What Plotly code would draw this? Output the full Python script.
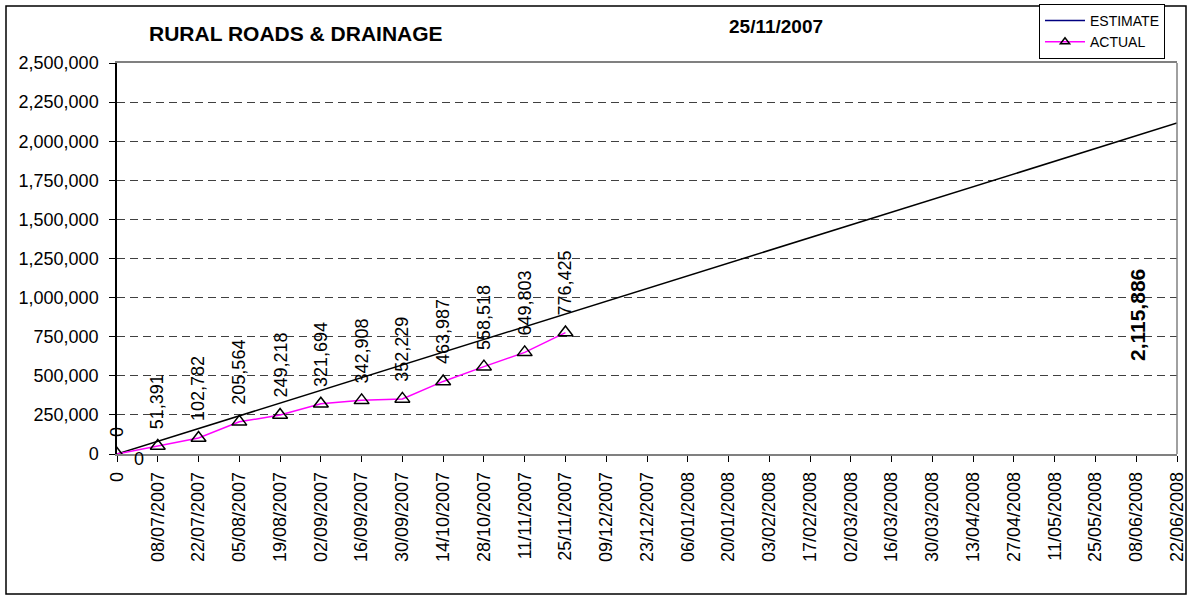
import plotly.graph_objects as go

# category axis labels (Excel line chart with a date-like category axis)
categories = ["0", "08/07/2007", "22/07/2007", "05/08/2007", "19/08/2007", "02/09/2007",
              "16/09/2007", "30/09/2007", "14/10/2007", "28/10/2007", "11/11/2007",
              "25/11/2007", "09/12/2007", "23/12/2007", "06/01/2008", "20/01/2008",
              "03/02/2008", "17/02/2008", "02/03/2008", "16/03/2008", "30/03/2008",
              "13/04/2008", "27/04/2008", "11/05/2008", "25/05/2008", "08/06/2008",
              "22/06/2008"]

# estimate: straight line from start to end
estimate_x = ["0", "22/06/2008"]
estimate_y = [0, 2115886]

# actual progress
actual_x = categories[:12]
actual_y = [0, 51391, 102782, 205564, 249218, 321694, 342908, 352229,
            463987, 558518, 649803, 776425]

y_ticks = [0, 250000, 500000, 750000, 1000000, 1250000, 1500000,
           1750000, 2000000, 2250000, 2500000]

W, H = 1191, 597
L, R, T, B = 117, 1177, 63, 454   # plot area in pixels
FONT = "Liberation Sans, Arial, sans-serif"


def px_x(p):
    return (p - L) / (R - L)


def px_y(p):
    return (B - p) / (B - T)


fig = go.Figure()

fig.add_trace(go.Scatter(
    x=estimate_x, y=estimate_y, mode="lines", name="ESTIMATE",
    line=dict(color="black", width=1.5), showlegend=False, hoverinfo="skip"))

fig.add_trace(go.Scatter(
    x=actual_x, y=actual_y, mode="lines+markers", name="ACTUAL",
    line=dict(color="#ff00ff", width=1.5),
    marker=dict(symbol="triangle-up-open", size=13, color="black",
                line=dict(color="black", width=1.5)),
    showlegend=False))

# legend-only entries (legend in the reference shows a navy estimate line)
fig.add_trace(go.Scatter(x=[None], y=[None], mode="lines", name="ESTIMATE",
                         line=dict(color="#000080", width=1.5)))
fig.add_trace(go.Scatter(x=[None], y=[None], mode="lines+markers", name="ACTUAL",
                         line=dict(color="#ff00ff", width=1.5),
                         marker=dict(symbol="triangle-up-open", size=8, color="black",
                                     line=dict(color="black", width=1.5))))

annotations = []
# rotated data labels for the actual series
for cx, cy in zip(actual_x, actual_y):
    annotations.append(dict(
        x=cx, y=cy, xref="x", yref="y", text=f"{cy:,}", showarrow=False,
        textangle=-90, yanchor="bottom", xanchor="center", yshift=15,
        font=dict(family=FONT, size=18, color="black")))

# estimate labels
annotations.append(dict(
    x=estimate_x[0], y=estimate_y[0], xref="x", yref="y", text=f"{estimate_y[0]:,}",
    showarrow=False, xshift=22, yshift=-5,
    font=dict(family=FONT, size=18, color="black")))
annotations.append(dict(
    x="08/06/2008", y=890000, xref="x", yref="y", text=f"<b>{estimate_y[-1]:,}</b>",
    showarrow=False, textangle=-90, xshift=2,
    font=dict(family=FONT, size=21, color="black")))

# titles
annotations.append(dict(
    x=px_x(296), y=px_y(33), xref="paper", yref="paper",
    xanchor="center", yanchor="middle",
    text="<b>RURAL ROADS & DRAINAGE</b>", showarrow=False,
    font=dict(family=FONT, size=21, color="black")))
annotations.append(dict(
    x=px_x(776), y=px_y(26), xref="paper", yref="paper",
    xanchor="center", yanchor="middle",
    text="<b>25/11/2007</b>", showarrow=False,
    font=dict(family=FONT, size=19, color="black")))

shapes = [
    # outer chart border
    dict(type="rect", xref="paper", yref="paper",
         x0=px_x(6), x1=px_x(1186), y0=px_y(594), y1=px_y(6),
         line=dict(color="black", width=1.5), layer="below"),
    # right edge of plot area
    dict(type="line", xref="paper", yref="paper", x0=1, x1=1, y0=0, y1=1,
         line=dict(color="#808080", width=1.5)),
]

fig.update_layout(
    width=W, height=H,
    margin=dict(l=L, r=W - R, t=T, b=H - B, autoexpand=False),
    paper_bgcolor="white", plot_bgcolor="white",
    font=dict(family=FONT, size=18, color="black"),
    annotations=annotations, shapes=shapes,
    legend=dict(x=px_x(1039), y=px_y(4), xanchor="left", yanchor="top",
                bgcolor="white", bordercolor="black", borderwidth=1,
                font=dict(family=FONT, size=14, color="black"),
                tracegroupgap=0, itemwidth=40),
)

fig.update_xaxes(
    type="category", categoryorder="array", categoryarray=categories,
    range=[0, len(categories) - 1], tickangle=-90,
    showline=True, linecolor="#808080", linewidth=1.5, mirror=True,
    ticks="outside", ticklen=6, tickcolor="black", showgrid=False,
    ticklabelstandoff=3,
    tickfont=dict(family=FONT, size=18, color="black"), zeroline=False)

fig.update_yaxes(
    range=[0, 2500000], tickvals=y_ticks, tickformat=",d",
    showline=True, linecolor="black", linewidth=1.5,
    ticks="outside", ticklen=6, tickcolor="black",
    ticklabelstandoff=7,
    showgrid=True, gridcolor="#404040", gridwidth=1, griddash="8px,5px",
    tickfont=dict(family=FONT, size=18, color="black"), zeroline=False)

# drop the default 8px body margin so the chart sits at the window origin
fig.write_html("out.html", config={"displayModeBar": False},
               post_script="document.body.style.margin='0';")
